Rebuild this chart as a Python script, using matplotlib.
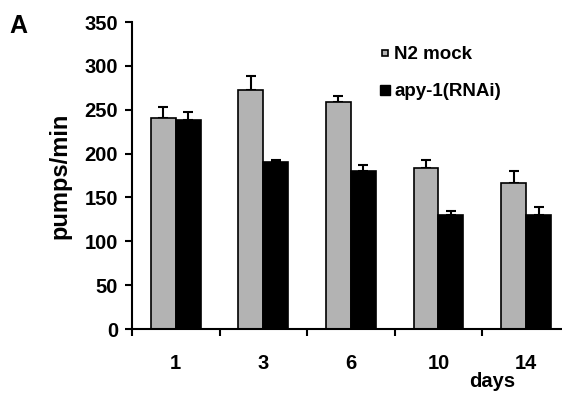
import matplotlib
matplotlib.use('Agg')
import matplotlib.pyplot as plt
import numpy as np
from matplotlib.lines import Line2D

# Pumping rate per day
days = ['1', '3', '6', '10', '14']
mock_mean = [241, 273, 259, 183, 166]
mock_err = [12, 15, 7, 10, 14]
rnai_mean = [238, 190, 180, 130, 130]
rnai_err = [9, 3, 7, 5, 9]
series_labels = ['N2 mock', 'apy-1(RNAi)']

plt.rcParams['font.family'] = ['Liberation Sans', 'DejaVu Sans']
plt.rcParams['font.weight'] = 'bold'

fig = plt.figure(figsize=(5.62, 3.93), dpi=100)
ax = fig.add_axes([0.2349, 0.1628, 0.779, 0.7812])

x = np.arange(len(days))
w = 0.285
gray = '#b3b3b3'

ax.bar(x - w / 2, mock_mean, w, color=gray, edgecolor='black', linewidth=1.2, zorder=2)
ax.bar(x + w / 2, rnai_mean, w, color='black', edgecolor='black', linewidth=1.2, zorder=2)
ax.errorbar(x - w / 2, mock_mean, yerr=[np.zeros(len(days)), mock_err], fmt='none',
            ecolor='black', elinewidth=1.5, capsize=3.6, capthick=1.5, zorder=1)
ax.errorbar(x + w / 2, rnai_mean, yerr=[np.zeros(len(days)), rnai_err], fmt='none',
            ecolor='black', elinewidth=1.5, capsize=3.6, capthick=1.5, zorder=1)

ax.set_xlim(-0.5, len(days) - 0.5)
ax.set_ylim(0, 350)
ax.set_yticks(range(0, 351, 50))

# labels at category centres, tick marks at the boundaries
ax.set_xticks(x)
ax.set_xticklabels(days)
ax.set_xticks(np.arange(len(days)) - 0.5, minor=True)
ax.tick_params(axis='x', which='major', length=0, pad=18, labelsize=14.5)
ax.tick_params(axis='x', which='minor', length=5, width=1.5, direction='out')
ax.tick_params(axis='y', length=5, width=1.5, pad=5, labelsize=14.5)

for side in ['top', 'right']:
    ax.spines[side].set_visible(False)
for side in ['left', 'bottom']:
    ax.spines[side].set_linewidth(1.5)

ax.set_ylabel('pumps/min', fontsize=17, fontweight='bold')
ax.yaxis.set_label_coords(-0.139, 0.5)
fig.text(0.875, 0.015, 'days', fontsize=14.5, fontweight='bold', ha='center', va='baseline')
fig.text(0.016, 0.916, 'A', fontsize=18, fontweight='bold', ha='left', va='baseline')

handles = [Line2D([], [], ls='none', marker='s', markersize=5, markerfacecolor=gray,
                  markeredgecolor='black', markeredgewidth=1.2),
           Line2D([], [], ls='none', marker='s', markersize=7, markerfacecolor='black',
                  markeredgecolor='black')]
ax.legend(handles, series_labels, loc='upper left', bbox_to_anchor=(0.645, 0.925),
          bbox_transform=fig.transFigure, frameon=False, numpoints=1,
          handlelength=0.6, handletextpad=0.2, labelspacing=1.05,
          prop={'weight': 'bold', 'size': 13.5})

fig.savefig('out.png', dpi=100)
